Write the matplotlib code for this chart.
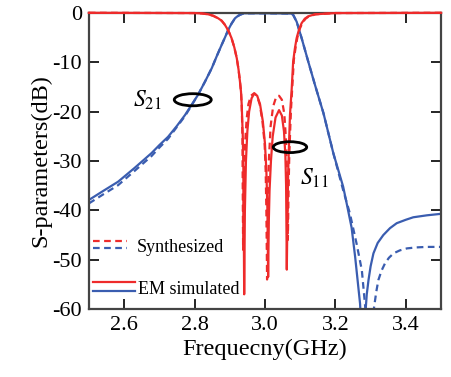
import numpy as np
import matplotlib
matplotlib.use("Agg")
import matplotlib.pyplot as plt
from matplotlib.patches import Ellipse
from matplotlib.lines import Line2D

plt.rcParams['font.family'] = ['Liberation Serif', 'DejaVu Serif']
plt.rcParams['mathtext.fontset'] = 'stix'
plt.rcParams['axes.unicode_minus'] = False

# S21 (EM simulated, solid)
s21_em_f = [2.5, 2.54, 2.583, 2.63, 2.678, 2.70, 2.725, 2.75, 2.773, 2.792, 2.810, 2.83, 2.849,
            2.863, 2.877, 2.887, 2.896, 2.905, 2.915, 2.922, 2.929, 2.94,
            3.0, 3.075, 3.080, 3.090, 3.104, 3.123, 3.142, 3.166, 3.194, 3.222, 3.232, 3.246, 3.256,
            3.270, 3.278, 3.284, 3.289, 3.294, 3.300, 3.308, 3.32, 3.336, 3.355, 3.374, 3.40, 3.421,
            3.46, 3.5]
s21_em_db = [-37.9, -36.1, -34.2, -31.4, -28.4, -26.8, -25.1, -22.9, -20.7, -18.6, -16.6, -13.9, -11.2,
             -8.8, -6.5, -4.9, -3.4, -2.2, -1.1, -0.7, -0.4, -0.1,
             -0.1, -0.15, -0.4, -1.8, -5.1, -9.9, -14.6, -20.3, -28.4, -35.2, -38.6, -43.5, -49.4,
             -58.9, -70.0, -62.0, -57.0, -54.1, -51.3, -48.7, -46.6, -45.0, -43.6, -42.6, -41.9, -41.4,
             -41.0, -40.7]

# S21 (synthesized, dashed)
s21_syn_f = [2.5, 2.54, 2.583, 2.63, 2.678, 2.70, 2.725, 2.75, 2.773, 2.792, 2.810, 2.83, 2.849,
             2.863, 2.877, 2.887, 2.896, 2.905, 2.915, 2.922, 2.929, 2.94,
             3.0, 3.075, 3.080, 3.090, 3.104, 3.123, 3.142, 3.166, 3.194, 3.222, 3.241, 3.260, 3.275,
             3.282, 3.298, 3.306, 3.310, 3.316, 3.322, 3.331, 3.341, 3.352, 3.365, 3.383, 3.403,
             3.43, 3.459, 3.5]
s21_syn_db = [-38.6, -36.8, -34.9, -32.0, -29.0, -27.3, -25.5, -23.1, -20.9, -18.7, -16.6, -13.9, -11.2,
              -8.8, -6.5, -4.9, -3.4, -2.2, -1.1, -0.7, -0.4, -0.1,
              -0.1, -0.15, -0.4, -1.8, -5.1, -9.9, -14.6, -20.3, -28.4, -35.9, -40.6, -46.7, -52.1,
              -57.5, -70.0, -62.0, -59.5, -56.5, -54.1, -52.2, -50.7, -49.6, -48.7, -48.1, -47.7,
              -47.5, -47.4, -47.4]

# S11 (EM simulated, solid)
s11_em_f = [2.5, 2.8, 2.82, 2.839, 2.853, 2.867, 2.877, 2.886, 2.896, 2.905, 2.913, 2.920, 2.925,
            2.929, 2.932, 2.934, 2.937, 2.939, 2.941,
            2.943, 2.946, 2.950, 2.955, 2.962, 2.970, 2.978, 2.986, 2.994, 3.000, 3.004, 3.007, 3.009,
            3.011, 3.013, 3.017, 3.022, 3.030, 3.040, 3.048, 3.054, 3.058, 3.060, 3.062,
            3.064, 3.066, 3.069, 3.071, 3.076, 3.080, 3.085, 3.090, 3.097, 3.104, 3.113, 3.123, 3.142,
            3.2, 3.5]
s11_em_db = [0.0, -0.05, -0.12, -0.3, -0.6, -1.1, -1.6, -2.4, -3.6, -5.1, -7.0, -9.2, -11.5,
             -13.9, -16.0, -18.6, -25.0, -33.0, -57.0,
             -40.0, -30.0, -24.0, -20.0, -17.3, -16.3, -16.8, -18.5, -22.0, -26.5, -32.0, -40.0, -53.5,
             -42.0, -36.0, -30.0, -25.0, -21.2, -19.7, -20.8, -24.0, -29.0, -35.0, -52.0,
             -40.0, -32.0, -25.0, -20.7, -15.3, -9.9, -7.2, -5.1, -3.3, -2.1, -1.2, -0.7, -0.3,
             -0.05, 0.0]

# S11 (synthesized, dashed)
s11_syn_f = [2.5, 2.8, 2.82, 2.839, 2.853, 2.867, 2.877, 2.886, 2.896, 2.905, 2.913, 2.920, 2.925,
             2.929, 2.932, 2.934, 2.936, 2.938,
             2.940, 2.944, 2.948, 2.953, 2.960, 2.969, 2.977, 2.985, 2.993, 2.999, 3.002, 3.004, 3.006,
             3.008, 3.011, 3.016, 3.023, 3.032, 3.040, 3.048, 3.055, 3.060, 3.063, 3.065,
             3.067, 3.069, 3.072, 3.074, 3.078, 3.082, 3.087, 3.092, 3.099, 3.106, 3.115, 3.125, 3.144,
             3.2, 3.5]
s11_syn_db = [0.0, -0.05, -0.12, -0.3, -0.6, -1.1, -1.6, -2.4, -3.6, -5.1, -7.0, -9.2, -11.5,
              -13.9, -16.0, -18.6, -25.0, -48.0,
              -33.0, -26.0, -21.5, -18.5, -16.8, -16.3, -16.8, -18.5, -22.0, -26.5, -32.0, -40.0, -54.0,
              -38.0, -30.0, -23.0, -19.0, -17.0, -16.8, -17.6, -20.5, -26.0, -33.0, -46.0,
              -36.0, -29.0, -23.0, -19.5, -14.5, -9.5, -7.0, -5.0, -3.2, -2.1, -1.2, -0.7, -0.3,
              -0.05, 0.0]

red = '#ee2b2b'
blue = '#3a5db0'

fig = plt.figure(figsize=(4.51, 3.77), dpi=100)
ax = fig.add_axes([0.197, 0.180, 0.781, 0.786])

dash = (0, (3, 2))
ax.plot(s21_syn_f, s21_syn_db, color=blue, lw=1.6, ls=dash)
ax.plot(s21_em_f, s21_em_db, color=blue, lw=1.6)
ax.plot(s11_syn_f, s11_syn_db, color=red, lw=1.6, ls=dash, clip_on=False, zorder=3)
ax.plot(s11_em_f, s11_em_db, color=red, lw=1.6, clip_on=False, zorder=3)

ax.set_xlim(2.5, 3.5)
ax.set_ylim(-60, 0)
ax.set_xticks([2.6, 2.8, 3.0, 3.2, 3.4])
ax.set_xticklabels(['2.6', '2.8', '3.0', '3.2', '3.4'])
ax.set_yticks([0, -10, -20, -30, -40, -50, -60])
ax.tick_params(direction='in', top=True, right=True, length=7, width=1.2,
               labelsize=16, colors='black', pad=5)
for s in ax.spines.values():
    s.set_color('#444444')
    s.set_linewidth(1.6)
ax.set_xlabel('Frequecny(GHz)', fontsize=17.5, labelpad=3)
ax.set_ylabel('S-parameters(dB)', fontsize=17.5, labelpad=1)

# annotations
ax.add_patch(Ellipse((2.795, -17.6), 0.105, 2.45, fill=False, ec='black', lw=2.0, zorder=4))
ax.text(2.707, -17.8, r'$S_{21}$', fontsize=17, ha='right', va='center')
ax.add_patch(Ellipse((3.071, -27.2), 0.095, 2.2, fill=False, ec='black', lw=2.0, zorder=4))
ax.text(3.099, -33.5, r'$S_{11}$', fontsize=17, ha='left', va='center')

# legend drawn by hand
tr = ax.transAxes
ax.add_line(Line2D([0.011, 0.107], [0.231, 0.231], transform=tr, color=red, lw=1.6, ls=dash))
ax.add_line(Line2D([0.011, 0.107], [0.205, 0.205], transform=tr, color=blue, lw=1.6, ls=dash))
ax.text(0.136, 0.194, 'Synthesized', transform=tr, fontsize=13, va='baseline', ha='left')
ax.add_line(Line2D([0.011, 0.131], [0.091, 0.091], transform=tr, color=red, lw=1.6))
ax.add_line(Line2D([0.011, 0.131], [0.062, 0.062], transform=tr, color=blue, lw=1.6))
ax.text(0.139, 0.051, 'EM simulated', transform=tr, fontsize=13, va='baseline', ha='left')

fig.savefig('out.png', dpi=100)
